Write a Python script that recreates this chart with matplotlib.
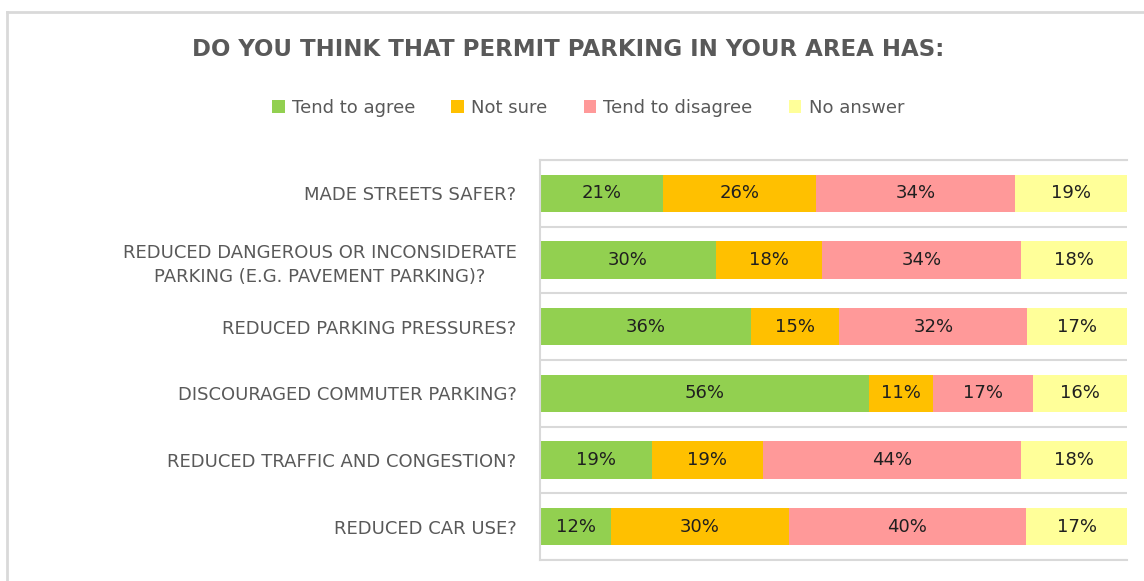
import numpy as np
import matplotlib.pyplot as plt
from matplotlib.lines import Line2D

# Datos (porcentajes)
preguntas = [
    "MADE STREETS SAFER?",
    "REDUCED DANGEROUS OR INCONSIDERATE\nPARKING (E.G. PAVEMENT PARKING)?",
    "REDUCED PARKING PRESSURES?",
    "DISCOURAGED COMMUTER PARKING?",
    "REDUCED TRAFFIC AND CONGESTION?",
    "REDUCED CAR USE?",
]
series = ["Tend to agree", "Not sure", "Tend to disagree", "No answer"]
tend_to_agree = [21, 30, 36, 56, 19, 12.1]
not_sure = [26, 18, 15, 11, 19, 30.3]
tend_to_disagree = [34, 34, 32, 17, 44, 40.4]
no_answer = [19, 18, 17, 16, 18, 17.2]
colores = ["#92D050", "#FFC000", "#FF9999", "#FFFF99"]

gris = "#595959"
linea = "#D9D9D9"

fig = plt.figure(figsize=(11.44, 5.81), dpi=100)
ax = fig.add_axes([540 / 1144, 21 / 581, 587 / 1144, 400 / 581])

y = np.arange(len(preguntas))
izquierda = np.zeros(len(preguntas))
for nombre, vals, c in zip(series, [tend_to_agree, not_sure, tend_to_disagree, no_answer], colores):
    vals = np.array(vals)
    barras = ax.barh(y, vals, left=izquierda, height=0.56, color=c, label=nombre)
    etiquetas = [f"{v:.0f}%" for v in vals]
    ax.bar_label(barras, labels=etiquetas, label_type="center", fontsize=13, color="#1f1f1f")
    izquierda += vals

ax.set_xlim(0, izquierda.max())
ax.set_ylim(len(preguntas) - 0.5, -0.5)
ax.set_yticks(y)
ax.set_yticklabels(preguntas, fontsize=13, color=gris, linespacing=1.4)
for lbl in ax.get_yticklabels():
    lbl.set_multialignment("center")
ax.tick_params(axis="y", length=0, pad=17)
ax.set_xticks([])

# Lineas separadoras entre categorias
ax.set_yticks(np.arange(-0.5, len(preguntas), 1), minor=True)
ax.tick_params(axis="y", which="minor", length=0)
ax.grid(True, axis="y", which="minor", color=linea, linewidth=1.5)
ax.set_axisbelow(True)
for s in ["top", "bottom", "left"]:
    ax.spines[s].set_color(linea)
    ax.spines[s].set_linewidth(1.5)
ax.spines["right"].set_visible(False)

# Titulo y leyenda
fig.text(0.497, 1 - 50 / 581, "DO YOU THINK THAT PERMIT PARKING IN YOUR AREA HAS:",
         ha="center", va="center", fontsize=16.5, fontweight="bold", color=gris)
fig.legend(loc="center", bbox_to_anchor=(0.514, 1 - 108 / 581), ncol=4, frameon=False,
           fontsize=13, labelcolor=gris, handlelength=0.7, handleheight=0.7,
           handletextpad=0.4, columnspacing=2.0)

# Marco del grafico
fig.add_artist(Line2D([7 / 1144, 7 / 1144], [0, 1 - 12 / 581], transform=fig.transFigure,
                      color=linea, linewidth=2))
fig.add_artist(Line2D([7 / 1144, 1], [1 - 12 / 581, 1 - 12 / 581], transform=fig.transFigure,
                      color=linea, linewidth=2))

fig.savefig("out.png", dpi=100)
